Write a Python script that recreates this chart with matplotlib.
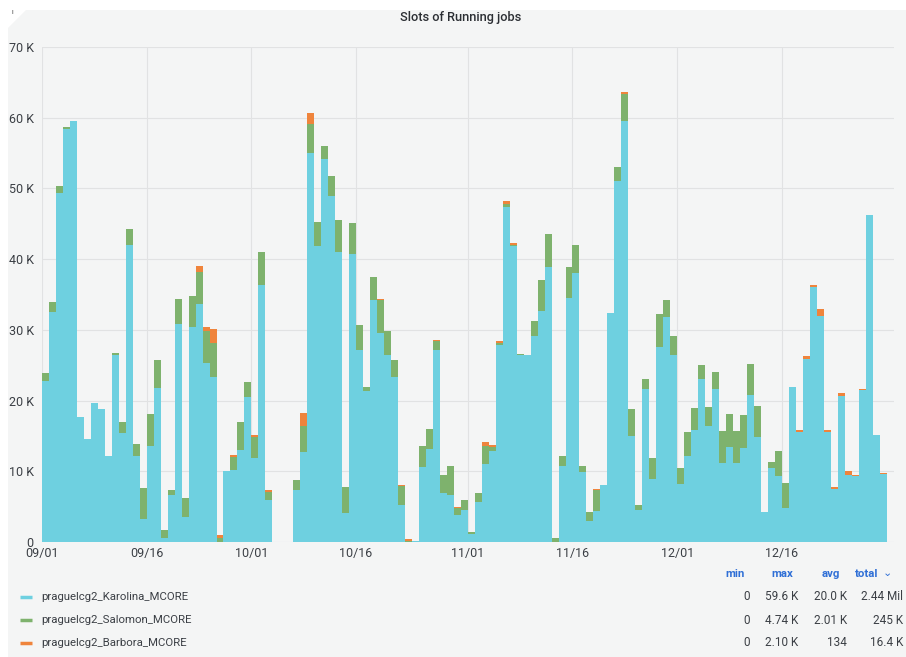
#
# Slots of Running jobs - stacked daily bars, Grafana style
#

import datetime as dt
import numpy as np
import matplotlib.pyplot as plt
import matplotlib.dates as mdates
from matplotlib.patches import Polygon

plt.rcParams.update(
    {
        "font.family": ["Roboto", "DejaVu Sans"],
        "font.size": 9,
        "text.color": "#3b3f45",
        "xtick.color": "#3b3f45",
        "ytick.color": "#3b3f45",
    }
)

start = dt.datetime(2022, 9, 1)
n_days = 121

# values in thousands of slots, one per day from 09/01
karolina = [
    22.7, 32.5, 49.4, 58.4, 59.6, 17.7, 14.5, 19.7, 18.8, 12.2,
    26.5, 15.4, 42.0, 12.2, 3.2, 13.6, 21.8, 0.5, 6.7, 30.8,
    3.5, 30.4, 33.6, 25.3, 23.4, 0.0, 10.1, 10.2, 13.0, 20.5,
    11.9, 36.4, 6.0, 0.0, 0.0, 0.0, 7.3, 12.7, 55.0, 41.9,
    54.2, 49.0, 41.0, 4.1, 40.7, 27.2, 21.3, 34.2, 29.6, 26.4,
    23.3, 5.3, 0.0, 0.1, 10.6, 13.2, 27.2, 7.0, 6.7, 3.8,
    4.5, 1.2, 5.7, 11.1, 12.8, 27.9, 47.4, 41.8, 26.5, 26.4,
    29.2, 32.6, 38.9, 0.0, 10.8, 34.5, 38.1, 9.9, 2.9, 4.4,
    8.0, 32.4, 51.0, 59.6, 15.0, 4.5, 21.6, 8.9, 27.6, 31.8,
    26.5, 8.2, 12.1, 15.9, 23.1, 16.4, 21.6, 11.2, 13.5, 11.2,
    13.3, 20.8, 14.9, 4.3, 10.4, 9.3, 4.8, 21.9, 15.5, 25.9,
    36.1, 32.0, 15.6, 7.5, 20.6, 9.5, 9.4, 21.5, 46.2, 15.1,
    9.6,
]
salomon = [
    1.2, 1.5, 1.0, 0.3, 0.0, 0.0, 0.0, 0.0, 0.0, 0.0,
    0.2, 1.6, 2.3, 1.6, 4.4, 4.5, 4.0, 1.2, 0.7, 3.6,
    2.7, 4.4, 4.6, 4.6, 4.7, 0.6, 0.0, 1.8, 3.9, 2.1,
    3.0, 4.6, 1.1, 0.0, 0.0, 0.0, 1.5, 3.7, 4.1, 3.4,
    1.8, 2.8, 4.5, 3.7, 4.4, 3.5, 0.6, 3.3, 4.6, 3.4,
    2.4, 2.6, 0.1, 0.0, 3.0, 2.8, 1.2, 2.5, 4.0, 1.0,
    1.5, 0.2, 1.2, 2.5, 0.6, 0.3, 0.4, 0.2, 0.1, 0.1,
    2.0, 4.4, 4.6, 0.5, 1.4, 4.4, 3.9, 0.9, 1.4, 2.9,
    0.0, 0.0, 2.0, 3.8, 3.8, 0.7, 1.5, 3.0, 4.6, 2.4,
    2.7, 2.2, 3.4, 3.0, 1.9, 2.7, 2.4, 4.5, 4.6, 4.5,
    4.6, 4.4, 4.3, 0.0, 0.9, 3.5, 3.5, 0.0, 0.0, 0.0,
    0.0, 0.0, 0.0, 0.0, 0.0, 0.0, 0.0, 0.0, 0.0, 0.0,
    0.0,
]
barbora = [
    0.0, 0.0, 0.0, 0.0, 0.0, 0.0, 0.0, 0.0, 0.0, 0.0,
    0.0, 0.0, 0.0, 0.0, 0.0, 0.0, 0.0, 0.0, 0.0, 0.0,
    0.0, 0.0, 0.9, 0.5, 2.0, 0.4, 0.0, 0.3, 0.0, 0.0,
    0.3, 0.0, 0.3, 0.0, 0.0, 0.0, 0.0, 1.9, 1.5, 0.0,
    0.0, 0.0, 0.0, 0.0, 0.0, 0.0, 0.0, 0.0, 0.1, 0.0,
    0.0, 0.2, 0.3, 0.0, 0.0, 0.0, 0.2, 0.0, 0.0, 0.2,
    0.0, 0.0, 0.0, 0.5, 0.3, 0.2, 0.4, 0.3, 0.0, 0.0,
    0.0, 0.0, 0.0, 0.0, 0.0, 0.0, 0.0, 0.0, 0.0, 0.2,
    0.0, 0.0, 0.0, 0.2, 0.0, 0.0, 0.0, 0.0, 0.0, 0.0,
    0.0, 0.0, 0.0, 0.0, 0.0, 0.0, 0.0, 0.0, 0.0, 0.0,
    0.0, 0.0, 0.0, 0.0, 0.0, 0.0, 0.0, 0.0, 0.4, 0.4,
    0.2, 1.0, 0.3, 0.3, 0.5, 0.5, 0.1, 0.1, 0.1, 0.0,
    0.1,
]

series_names = ["praguelcg2_Karolina_MCORE", "praguelcg2_Salomon_MCORE", "praguelcg2_Barbora_MCORE"]
series_colors = ["#6ED0E0", "#7EB26D", "#EF843C"]
stat_headers = ["min", "max", "avg", "total"]
stat_values = [
    ["0", "59.6 K", "20.0 K", "2.44 Mil"],
    ["0", "4.74 K", "2.01 K", "245 K"],
    ["0", "2.10 K", "134", "16.4 K"],
]
y_ticks = [0, 10, 20, 30, 40, 50, 60, 70]
y_labels = ["0", "10 K", "20 K", "30 K", "40 K", "50 K", "60 K", "70 K"]
x_ticks = [dt.datetime(2022, m, d) for m in (9, 10, 11, 12) for d in (1, 16)]

W, H = 906, 657


def px(x, y):
    return x / W, 1 - y / H


fig = plt.figure(figsize=(W / 100, H / 100), dpi=100, facecolor="white")

# panel background with cut corner
panel = Polygon(
    [px(8, 28), px(26, 10), px(906, 10), px(906, 657), px(8, 657)],
    closed=True, transform=fig.transFigure, facecolor="#f4f5f5", edgecolor="none", zorder=-5,
)
fig.patches.append(panel)
fig.text(*px(12, 12), "ı", fontsize=5, color="#444444", ha="center", va="center")

fig.text(*px(461, 17), "Slots of Running jobs", ha="center", va="center",
         fontsize=9.2, fontweight="medium", color="#2b2e33")

ax = fig.add_axes([42 / W, (H - 542) / H, (894 - 42) / W, (542 - 47) / H])
ax.set_facecolor("#f4f5f5")

dates = [start + dt.timedelta(days=i) for i in range(n_days)]
k = np.array(karolina)
s = np.array(salomon)
b = np.array(barbora)

ax.bar(dates, k, width=1.0, align="edge", color=series_colors[0], linewidth=0, zorder=2)
ax.bar(dates, s, width=1.0, align="edge", bottom=k, color=series_colors[1], linewidth=0, zorder=2)
ax.bar(dates, b, width=1.0, align="edge", bottom=k + s, color=series_colors[2], linewidth=0, zorder=2)

ax.set_xlim(start, start + dt.timedelta(days=122.06))
ax.set_ylim(0, 70)
ax.set_yticks(y_ticks)
ax.set_yticklabels(y_labels)

ax.set_xticks(x_ticks)
ax.xaxis.set_major_formatter(mdates.DateFormatter("%m/%d"))

ax.grid(True, color="#e1e2e3", linewidth=0.8, zorder=0)
ax.set_axisbelow(True)
for sp in ax.spines.values():
    sp.set_visible(False)
ax.tick_params(axis="both", length=0, labelsize=9)
ax.tick_params(axis="y", pad=6)
ax.tick_params(axis="x", pad=3.5)

# legend table below the chart
header_x = [735, 782, 831, 867]
value_right = [750, 798, 847, 903]
row_y = [597, 620, 643]

for hx, name in zip(header_x, stat_headers):
    fig.text(*px(hx, 574), name, ha="center", va="center", fontsize=8.2,
             fontweight="bold", color="#2f6fd6")
fig.text(*px(887, 573), "⌄", ha="center", va="center", fontsize=8,
         color="#2f6fd6", family=["DejaVu Sans"])

for name, color, vals, ry in zip(series_names, series_colors, stat_values, row_y):
    fig.lines.append(plt.Line2D([20 / W, 32 / W], [1 - ry / H] * 2, transform=fig.transFigure,
                                color=color, linewidth=2.5, solid_capstyle="butt"))
    fig.text(*px(41, ry), name, ha="left", va="center", fontsize=8.2, color="#3b3f45")
    for xr, v in zip(value_right, vals):
        fig.text(*px(xr, ry), v, ha="right", va="center", fontsize=8.5, color="#3b3f45")

fig.savefig("out.png", dpi=100, facecolor=fig.get_facecolor())
